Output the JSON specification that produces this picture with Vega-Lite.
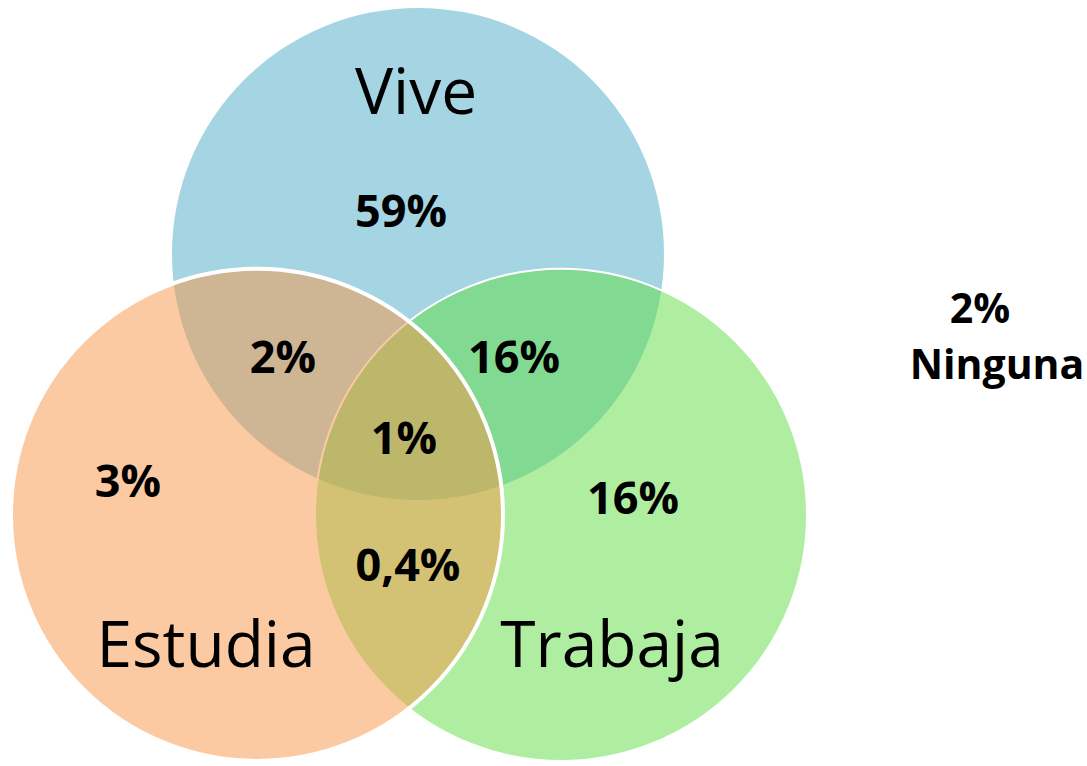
{
  "$schema": "https://vega.github.io/schema/vega-lite/v6.json",
  "autosize": {"type": "fit", "contains": "padding"},
  "width": 1087,
  "height": 766,
  "padding": 0,
  "background": "white",
  "config": {"view": {"stroke": null}},
  "datasets": {
    "circles": [
      {"set": "Vive", "cx": 418, "cy": 257},
      {"set": "Trabaja", "cx": 561, "cy": 521},
      {"set": "Estudia", "cx": 257, "cy": 521}
    ],
    "titles": [
      {"label": "Vive", "x": 416, "y": 115},
      {"label": "Estudia", "x": 206, "y": 675},
      {"label": "Trabaja", "x": 612, "y": 675}
    ],
    "values": [
      {"label": "59%", "x": 401, "y": 230},
      {"label": "2%", "x": 283, "y": 377},
      {"label": "16%", "x": 514, "y": 377},
      {"label": "1%", "x": 404, "y": 459},
      {"label": "3%", "x": 128, "y": 503},
      {"label": "16%", "x": 633, "y": 520},
      {"label": "0,4%", "x": 408, "y": 588}
    ],
    "outside": [
      {"label": "2%", "x": 980, "y": 327},
      {"label": "Ninguna", "x": 997, "y": 384}
    ]
  },
  "layer": [
    {
      "data": {"name": "circles"},
      "mark": {"type": "point", "shape": "circle", "filled": true, "fillOpacity": 0.5, "stroke": "white", "strokeOpacity": 1, "size": 242064, "clip": false},
      "encoding": {
        "x": {"field": "cx", "type": "quantitative", "scale": {"domain": [0, 1087], "nice": false, "zero": false}, "axis": null},
        "y": {"field": "cy", "type": "quantitative", "scale": {"domain": [766, 0], "nice": false, "zero": false}, "axis": null},
        "fill": {"field": "set", "type": "nominal", "scale": {"domain": ["Vive", "Trabaja", "Estudia"], "range": ["#4BACC6", "#5FDD41", "#F79646"]}, "legend": null},
        "strokeWidth": {"field": "set", "type": "nominal", "scale": {"domain": ["Vive", "Trabaja", "Estudia"], "range": [0, 4, 4]}, "legend": null},
        "order": {"field": "set", "sort": "descending"}
      }
    },
    {
      "data": {"name": "titles"},
      "mark": {"type": "text", "font": "Open Sans", "fontSize": 64, "fontWeight": "normal", "align": "center", "baseline": "alphabetic", "color": "black"},
      "encoding": {
        "x": {"field": "x", "type": "quantitative", "scale": {"domain": [0, 1087], "nice": false, "zero": false}, "axis": null},
        "y": {"field": "y", "type": "quantitative", "scale": {"domain": [766, 0], "nice": false, "zero": false}, "axis": null},
        "text": {"field": "label", "type": "nominal"}
      }
    },
    {
      "data": {"name": "values"},
      "mark": {"type": "text", "font": "Open Sans", "fontSize": 45, "fontWeight": "bold", "align": "center", "baseline": "alphabetic", "color": "black"},
      "encoding": {
        "x": {"field": "x", "type": "quantitative", "scale": {"domain": [0, 1087], "nice": false, "zero": false}, "axis": null},
        "y": {"field": "y", "type": "quantitative", "scale": {"domain": [766, 0], "nice": false, "zero": false}, "axis": null},
        "text": {"field": "label", "type": "nominal"}
      }
    },
    {
      "data": {"name": "outside"},
      "mark": {"type": "text", "font": "Open Sans", "fontSize": 41, "fontWeight": "bold", "align": "center", "baseline": "alphabetic", "color": "black"},
      "encoding": {
        "x": {"field": "x", "type": "quantitative", "scale": {"domain": [0, 1087], "nice": false, "zero": false}, "axis": null},
        "y": {"field": "y", "type": "quantitative", "scale": {"domain": [766, 0], "nice": false, "zero": false}, "axis": null},
        "text": {"field": "label", "type": "nominal"}
      }
    }
  ]
}
